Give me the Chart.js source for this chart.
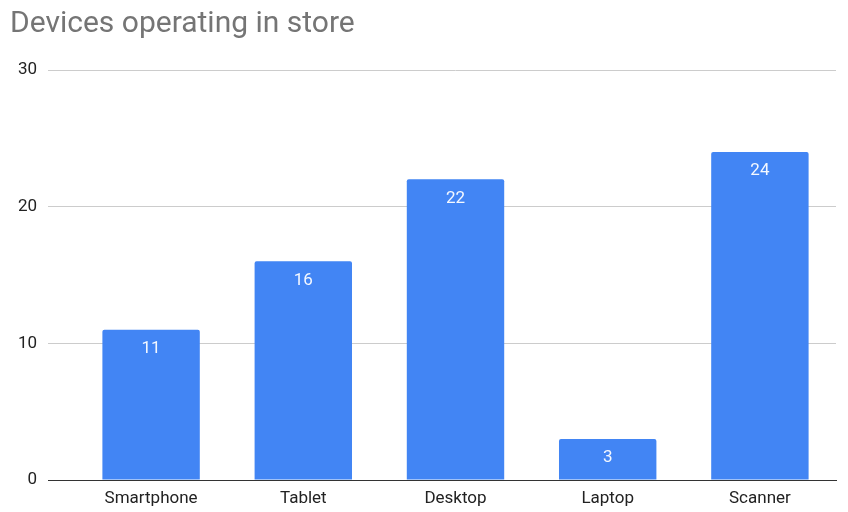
<!DOCTYPE html>
<html lang="en">
<head>
    <meta charset="UTF-8">
    <title>Devices operating in store</title>
    <script src="https://cdn.jsdelivr.net/npm/chart.js"></script>
    <style>
        body { margin: 0; background: #fff; }
        #devicesChart { display: block; }
    </style>
</head>
<body>
    <canvas id="devicesChart" width="848" height="512"></canvas>
    <script>
        const devices = ['Smartphone', 'Tablet', 'Desktop', 'Laptop', 'Scanner'];
        const counts = [11, 16, 22, 3, 24];
        const yTicks = [0, 10, 20, 30];

        // writes the value inside the top of each bar
        const barValues = {
            id: 'barValues',
            afterDatasetsDraw(chart) {
                const ctx = chart.ctx;
                ctx.save();
                ctx.fillStyle = '#f4f8ff';
                ctx.font = '17px Roboto';
                ctx.textAlign = 'center';
                ctx.textBaseline = 'middle';
                chart.getDatasetMeta(0).data.forEach((bar, i) => {
                    ctx.fillText(counts[i], bar.x, bar.y + 19);
                });
                ctx.restore();
            }
        };

        new Chart(document.getElementById('devicesChart'), {
            type: 'bar',
            data: {
                labels: devices,
                datasets: [{
                    data: counts,
                    backgroundColor: '#4285f4',
                    borderRadius: { topLeft: 2, topRight: 2 },
                    borderSkipped: 'bottom',
                    categoryPercentage: 1,
                    barPercentage: 0.64
                }]
            },
            options: {
                responsive: false,
                animation: false,
                layout: { padding: { left: 10, right: 12, top: 0, bottom: 0 } },
                plugins: {
                    legend: { display: false },
                    tooltip: { enabled: false },
                    title: {
                        display: true,
                        text: 'Devices operating in store',
                        align: 'start',
                        color: '#757575',
                        font: { family: 'Roboto', size: 30, weight: 'normal' },
                        padding: { top: 6, bottom: 28 }
                    }
                },
                scales: {
                    x: {
                        afterFit(axis) { axis.height = 32; },
                        grid: { display: false, drawTicks: false },
                        border: { display: true, color: '#333333' },
                        ticks: {
                            color: '#222222',
                            font: { family: 'Roboto', size: 17 },
                            padding: 9
                        }
                    },
                    y: {
                        min: 0,
                        max: 30,
                        afterBuildTicks(axis) {
                            axis.ticks = yTicks.map(v => ({ value: v }));
                        },
                        afterFit(axis) { axis.width = 65; },
                        border: { display: false },
                        // tick marks continue the grid lines to the left of the bars
                        grid: {
                            color: c => c.tick.value === 0 ? '#333333' : '#cccccc',
                            drawTicks: true,
                            tickLength: 27
                        },
                        ticks: {
                            color: '#222222',
                            font: { family: 'Roboto', size: 17 },
                            padding: 11
                        }
                    }
                }
            },
            plugins: [barValues]
        });
    </script>
</body>
</html>
